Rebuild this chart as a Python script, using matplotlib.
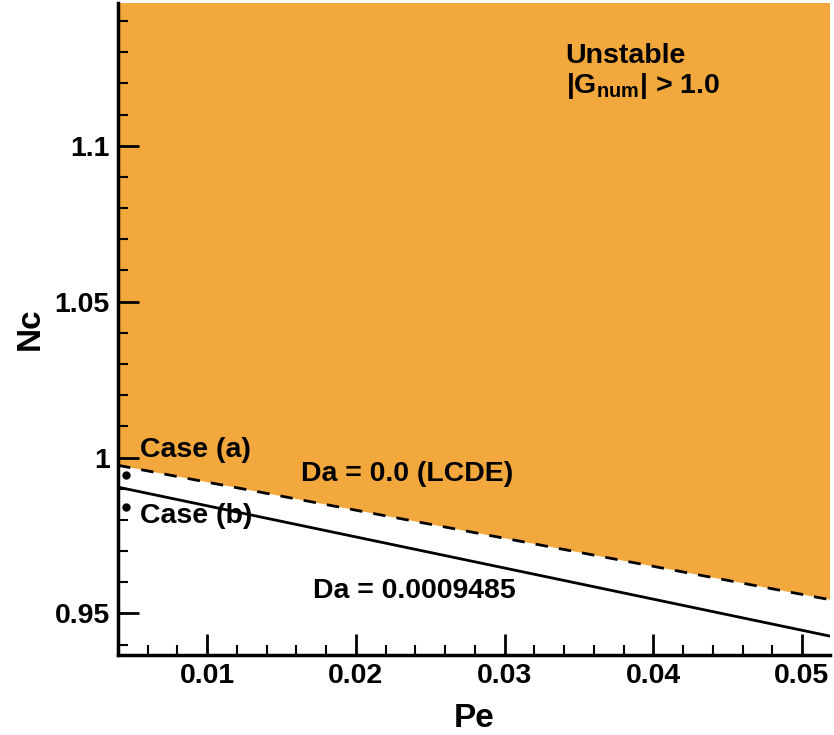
import matplotlib
matplotlib.use("Agg")
import matplotlib.pyplot as plt
from matplotlib.ticker import MultipleLocator

plt.rcParams['font.family'] = ['Liberation Sans', 'DejaVu Sans']
plt.rcParams['font.weight'] = 'bold'
plt.rcParams['axes.labelweight'] = 'bold'
plt.rcParams['mathtext.fontset'] = 'custom'
plt.rcParams['mathtext.bf'] = 'Liberation Sans:bold'
plt.rcParams['mathtext.rm'] = 'Liberation Sans:bold'

# stability boundaries (straight lines, end points)
pe = [0.004, 0.052]
nc_lcde = [0.9975, 0.9543]      # Da = 0.0 (LCDE), dashed
nc_da = [0.9905, 0.9426]        # Da = 0.0009485, solid

# the two test cases
case_pe = [0.00455, 0.00455]
case_nc = [0.9943, 0.9842]

orange = '#F2A83D'

fig = plt.figure(figsize=(8.34, 7.35), dpi=100)
ax = fig.add_axes([0.1415, 0.109, 0.854, 0.887])

ax.fill_between(pe, nc_lcde, 1.2, color=orange, lw=0)
ax.plot(pe, nc_lcde, color='black', lw=2, ls=(0, (4.5, 4)))
ax.plot(pe, nc_da, color='black', lw=2)
ax.plot(case_pe, case_nc, 'o', color='black', ms=5)

fs = 20.5
ax.text(0.0055, 1.0025, 'Case (a)', fontsize=fs, va='center', ha='left')
ax.text(0.0055, 0.9814, 'Case (b)', fontsize=fs, va='center', ha='left')
ax.text(0.0163, 0.9946, 'Da = 0.0 (LCDE)', fontsize=fs, va='center', ha='left')
ax.text(0.0171, 0.9573, 'Da = 0.0009485', fontsize=fs, va='center', ha='left')
ax.text(0.0341, 1.1287, 'Unstable', fontsize=fs, va='center', ha='left')
ax.text(0.0341, 1.1190, r'|G$_{\mathbf{num}}$| > 1.0', fontsize=fs, va='center', ha='left')

ax.set_xlim(0.004, 0.0519)
ax.set_ylim(0.9367, 1.1458)

ax.xaxis.set_major_locator(MultipleLocator(0.01))
ax.xaxis.set_minor_locator(MultipleLocator(0.002))
ax.yaxis.set_major_locator(MultipleLocator(0.05))
ax.yaxis.set_minor_locator(MultipleLocator(0.01))
ax.set_xticks([0.01, 0.02, 0.03, 0.04, 0.05])
ax.set_xticklabels(['0.01', '0.02', '0.03', '0.04', '0.05'])
ax.set_yticks([0.95, 1.0, 1.05, 1.1])
ax.set_yticklabels(['0.95', '1', '1.05', '1.1'])

ax.tick_params(which='major', direction='in', length=15, width=2, labelsize=20.5, pad=6)
ax.tick_params(which='minor', direction='in', length=7, width=1.5)
ax.tick_params(top=False, right=False)

for s in ['top', 'right']:
    ax.spines[s].set_visible(False)
for s in ['left', 'bottom']:
    ax.spines[s].set_linewidth(2.5)

ax.set_xlabel('Pe', fontsize=24, labelpad=10)
ax.set_ylabel('Nc', fontsize=24, labelpad=6)

fig.savefig('out.png', dpi=100)
